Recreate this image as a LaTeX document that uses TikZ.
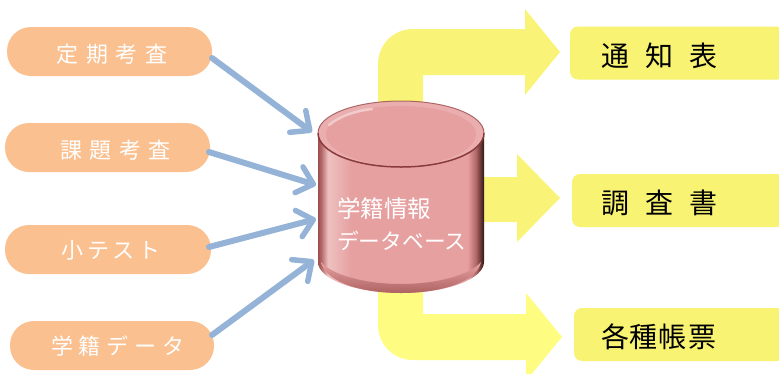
\documentclass[tikz,border=0pt]{standalone}
\usepackage{fontspec}
\setmainfont{Noto Sans CJK JP}
\usetikzlibrary{arrows.meta}
\definecolor{pillc}{HTML}{FAC090}
\definecolor{boxy}{HTML}{F8F372}
\definecolor{arry}{HTML}{F9F477}
\definecolor{arrz}{HTML}{FFFC82}
\definecolor{blueln}{HTML}{95B3D7}
\definecolor{cylc}{HTML}{E6A0A0}
\definecolor{cyld}{HTML}{8A3A3A}
\pgfdeclarehorizontalshading{cylside}{100bp}{
 color(0bp)=(cyld!80!cylc); color(25bp)=(cyld!80!cylc); color(26bp)=(cyld!55!cylc); color(28bp)=(cylc!65!white); color(31bp)=(cylc!80!white); color(35bp)=(cylc); color(70bp)=(cylc); color(72.5bp)=(cyld!55!cylc); color(75bp)=(black!65!cyld); color(100bp)=(black!65!cyld)}
\tikzset{
 x=1pt,y=-1pt,
 pill/.style={fill=pillc,text=white,minimum width=#1,minimum height=49pt,rounded corners=24pt,inner sep=0pt,font=\fontsize{22}{24}\selectfont},
 outbox/.style={fill=boxy,text=black,minimum height=53pt,rounded corners=8pt,inner sep=0pt,font=\fontsize{28}{30}\selectfont},
 feed/.style={draw=blueln,line width=6pt,line cap=round,-{Straight Barb[length=15pt,width=27pt,line width=5.5pt,round]}},
}
\newcommand{\spc}[1]{\hspace{#1pt}}
\newcommand{\lowr}[2]{\raisebox{-#1pt}[0pt][0pt]{#2}}
\begin{document}
\begin{tikzpicture}
\useasboundingbox (0,0) rectangle (779,373);
\begin{scope}
\clip (0,0) rectangle (779,373);
% yellow flow arrows
\fill[arry] (378,110) -- (378,64) .. controls (378,45) and (393,29) .. (413,29) -- (525,29) -- (525,9) -- (560,52) -- (525,95) -- (525,75) -- (423,75) -- (423,110) -- cycle;
\fill[arry] (470,177) -- (517,177) -- (517,154) -- (560,198) -- (517,242) -- (517,222) -- (470,222) -- cycle;
\fill[arrz] (378,285) -- (378,325) .. controls (378,344) and (393,360) .. (413,360) -- (526,360) -- (526,381) -- (562,337) -- (526,293) -- (526,314) -- (423,314) -- (423,285) -- cycle;
% source pills
\node[pill=205pt] (p1) at (109.5,51.5) {\lowr{11.4}{\hspace*{5pt}定\spc{7.5}期\spc{7.5}考\spc{7.5}査}};
\node[pill=205pt] (p2) at (107.5,147.5) {\lowr{11}{\hspace*{16pt}課\spc{7.5}題\spc{7.5}考\spc{7.5}査}};
\node[pill=206pt] (p3) at (108,249.5) {\lowr{9}{\hspace*{6pt}小\spc{3.5}テ\spc{3.5}ス\spc{3.5}ト}};
\node[pill=204pt] (p4) at (112,345.5) {\lowr{9}{\hspace*{12pt}学\spc{6}籍\spc{6}デ\spc{6}ー\spc{6}タ}};
% output boxes
\node[outbox,minimum width=215pt] (o1) at (677.5,53) {\lowr{13.6}{通\spc{16}知\spc{16}表\hspace*{36pt}}};
\node[outbox,minimum width=213pt] (o2) at (678.5,200.5) {\lowr{13}{調\spc{16}査\spc{16}書\hspace*{38pt}}};
\node[outbox,minimum width=211pt] (o3) at (679.5,334.5) {\lowr{13}{各\spc{1}種\spc{1}帳\spc{1}票\hspace*{42pt}}};
% cylinder
\path[shading=cylside] (318,133) .. controls (318,115) and (355,101) .. (401,101) .. controls (447,101) and (484,115) .. (484,133) -- (484,262) .. controls (484,279) and (447,293) .. (401,293) .. controls (355,293) and (318,279) .. (318,262) -- cycle;
\shade[top color=cylc,middle color=cylc!75!white,bottom color=cyld!60!cylc,shading angle=0] (321,262) .. controls (332,275) and (365,284) .. (401,284) .. controls (437,284) and (470,275) .. (481,262) .. controls (478,279) and (447,293) .. (401,293) .. controls (355,293) and (324,279) .. (321,262) -- cycle;
% top face
\fill[cylc!85!white] (318,133) .. controls (318,115) and (355,101) .. (401,101) .. controls (447,101) and (484,115) .. (484,133) .. controls (484,152) and (447,167) .. (401,167) .. controls (355,167) and (318,152) .. (318,133) -- cycle;
\fill[cylc] (326,134) .. controls (326,118) and (360,106) .. (401,106) .. controls (442,106) and (476,118) .. (476,134) .. controls (476,151) and (442,166) .. (401,166) .. controls (360,166) and (326,151) .. (326,134) -- cycle;
\draw[white!45!cylc,line width=2.5pt,line cap=round] (329,125) .. controls (340,116) and (355,111) .. (372,109);
\draw[cyld,line width=1pt,opacity=.65] (318,133) .. controls (318,115) and (355,101) .. (401,101) .. controls (447,101) and (484,115) .. (484,133);
\draw[cyld,line width=1.5pt] (318,133) .. controls (318,152) and (355,167) .. (401,167) .. controls (447,167) and (484,152) .. (484,133);
\node[text=white,align=left,anchor=west,inner sep=0pt,font=\fontsize{23.5}{34}\selectfont] (db) at (337,224) {学籍情報\\[-2pt]\fontsize{21.7}{34}\selectfont データベース};
% connectors
\coordinate (i1) at (312,132);
\coordinate (i2) at (316,185);
\coordinate (i3) at (316,219);
\coordinate (i4) at (314,260);
\coordinate (s1) at (212,58);
\coordinate (s2) at (209,152);
\coordinate (s3) at (209,247);
\coordinate (s4) at (212,335);
\draw[feed] (s1) -- (i1);
\draw[feed] (s2) -- (i2);
\draw[feed] (s3) -- (i3);
\draw[feed] (s4) -- (i4);
\end{scope}
\end{tikzpicture}
\end{document}
